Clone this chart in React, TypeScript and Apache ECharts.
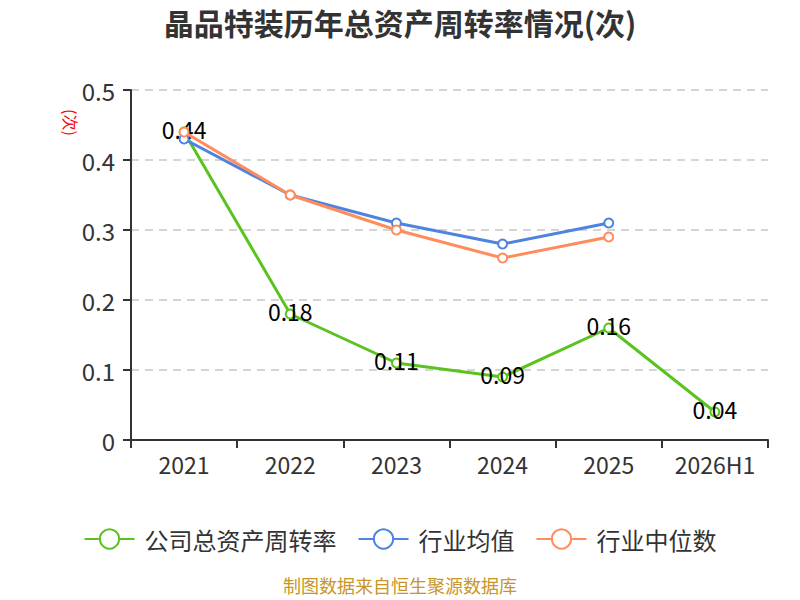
import React, { useEffect, useRef } from "react";
import * as echarts from "echarts";

const categories = ["2021", "2022", "2023", "2024", "2025", "2026H1"];
const companyValues = [0.44, 0.18, 0.11, 0.09, 0.16, 0.04];
const industryAvg = [0.43, 0.35, 0.31, 0.28, 0.31];
const industryMedian = [0.44, 0.35, 0.3, 0.26, 0.29];
const seriesNames = ["公司总资产周转率", "行业均值", "行业中位数"];
const yTicks = { min: 0, max: 0.5, interval: 0.1 };

export default function App() {
  const ref = useRef<HTMLDivElement>(null);
  useEffect(() => {
    if (!ref.current) return;
    const chart = echarts.init(ref.current, null, { renderer: "svg" });
    const font = "'Noto Sans CJK SC', 'Noto Sans', sans-serif";
    chart.setOption({
      animation: false,
      backgroundColor: "#ffffff",
      textStyle: { fontFamily: font },
      title: {
        text: "晶品特装历年总资产周转率情况(次)",
        left: "center",
        top: 2,
        textStyle: { fontSize: 30, fontWeight: "bold", color: "#333", fontFamily: font },
      },
      grid: { left: 131, right: 32, top: 90, bottom: 160 },
      legend: {
        data: seriesNames,
        bottom: 44,
        left: "center",
        itemWidth: 50,
        itemHeight: 24,
        itemGap: 21,
        textStyle: { fontSize: 24, color: "#333", fontFamily: font, padding: [0, 0, 0, 5] },
      },
      graphic: [
        {
          type: "text",
          x: 79,
          y: 109,
          rotation: -Math.PI / 2,
          style: { text: "(次)", fill: "#ff0000", fontSize: 16, fontFamily: font },
        },
        {
          type: "text",
          left: "center",
          top: 576,
          style: { text: "制图数据来自恒生聚源数据库", fill: "#c8952a", fontSize: 18, fontFamily: font },
        },
      ],
      xAxis: {
        type: "category",
        data: categories,
        boundaryGap: true,
        axisLine: { lineStyle: { color: "#333", width: 2 } },
        axisTick: { show: true, interval: 0, length: 8, lineStyle: { color: "#333", width: 2 } },
        axisLabel: { interval: 0, fontSize: 23, color: "#333", margin: 12 },
      },
      yAxis: {
        type: "value",
        min: yTicks.min,
        max: yTicks.max,
        interval: yTicks.interval,
        axisLine: { show: true, lineStyle: { color: "#333", width: 2 } },
        axisTick: { show: true, length: 8, lineStyle: { color: "#333", width: 2 } },
        axisLabel: { fontSize: 24, color: "#333", margin: 16 },
        splitLine: { lineStyle: { color: "#c8c8c8", type: [8, 6], width: 1.5 } },
      },
      series: [
        {
          name: seriesNames[0],
          type: "line",
          data: companyValues,
          color: "#5ac31f",
          lineStyle: { width: 3 },
          symbol: "emptyCircle",
          symbolSize: 9,
          z: 1,
          label: {
            show: true,
            position: "inside",
            offset: [0, -3],
            fontSize: 23,
            color: "#000",
            formatter: (p: any) => p.value.toFixed(2),
          },
        },
        {
          name: seriesNames[1],
          type: "line",
          data: industryAvg,
          color: "#4f83e0",
          lineStyle: { width: 3 },
          symbol: "emptyCircle",
          symbolSize: 9,
          z: 2,
        },
        {
          name: seriesNames[2],
          type: "line",
          data: industryMedian,
          color: "#ff8c5a",
          lineStyle: { width: 3 },
          symbol: "emptyCircle",
          symbolSize: 9,
          z: 3,
        },
      ],
    });
    return () => chart.dispose();
  }, []);
  return (
    <div
      ref={ref}
      style={{ width: 800, height: 600, position: "absolute", left: 0, top: 0 }}
    />
  );
}
